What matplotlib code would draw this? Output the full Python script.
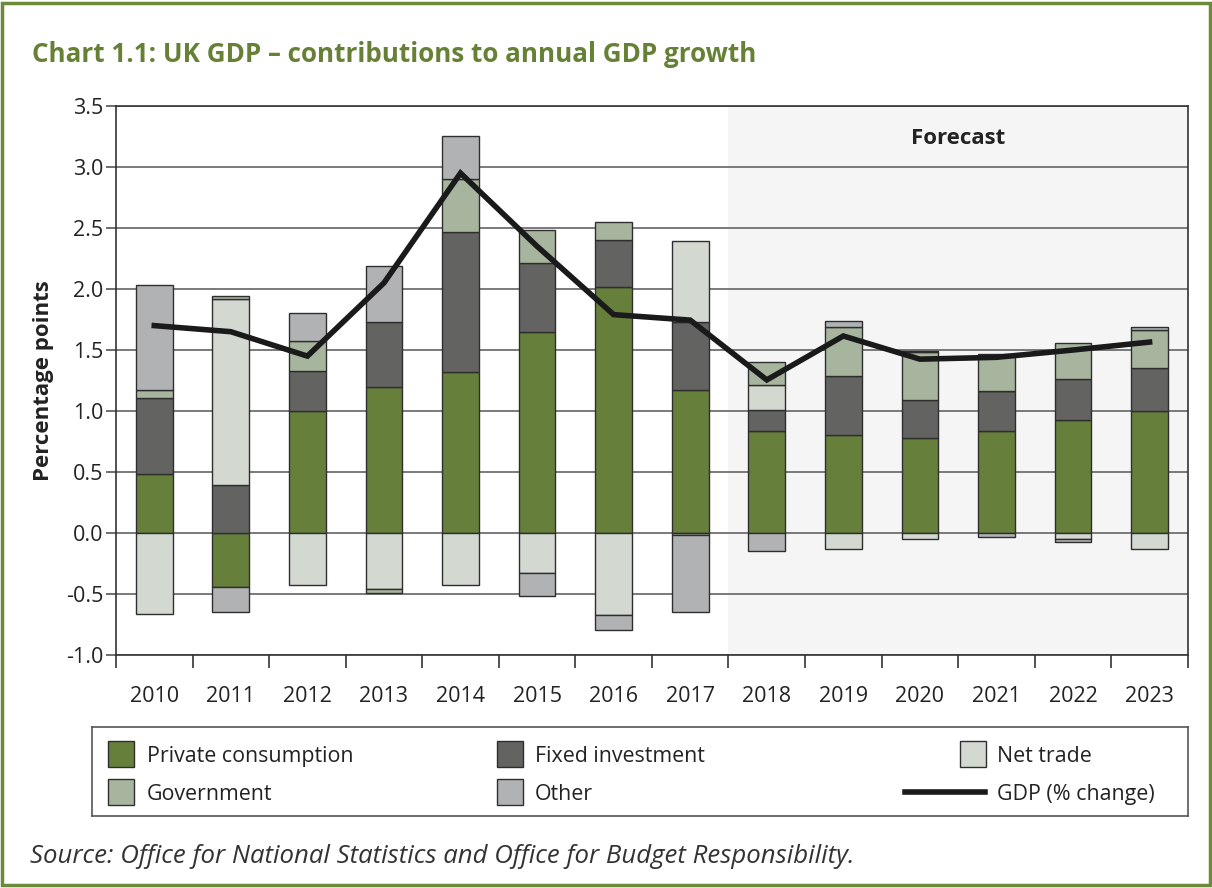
"""
UK GDP - contributions to annual GDP growth.
Stacked contribution bars with the GDP growth line on top.
"""

import numpy as np
import matplotlib
matplotlib.use('Agg')
import matplotlib.pyplot as plt
from matplotlib.patches import Rectangle
from matplotlib.lines import Line2D
from matplotlib.ticker import FixedLocator, FuncFormatter

plt.rcParams['font.family'] = ['Open Sans', 'DejaVu Sans']

years = ['2010', '2011', '2012', '2013', '2014', '2015', '2016',
         '2017', '2018', '2019', '2020', '2021', '2022', '2023']
private_consumption = [0.48, -0.44, 1.00, 1.20, 1.32, 1.65, 2.02,
                       1.175, 0.84, 0.80, 0.78, 0.84, 0.93, 1.00]
fixed_investment = [0.63, 0.39, 0.33, 0.53, 1.15, 0.56, 0.385,
                    0.555, 0.17, 0.49, 0.31, 0.32, 0.33, 0.355]
net_trade = [-0.66, 1.53, -0.43, -0.46, -0.43, -0.33, -0.67,
             0.66, 0.205, -0.13, -0.05, 0.00, -0.05, -0.13]
government = [0.06, 0.025, 0.245, -0.03, 0.43, 0.27, 0.145,
              -0.02, 0.185, 0.395, 0.39, 0.31, 0.30, 0.305]
other = [0.86, -0.205, 0.23, 0.46, 0.355, -0.19, -0.125,
         -0.63, -0.15, 0.05, 0.01, -0.035, -0.025, 0.03]
gdp_growth = [1.70, 1.65, 1.45, 2.05, 2.95, 2.35, 1.79,
              1.745, 1.255, 1.615, 1.425, 1.44, 1.50, 1.565]
forecast_start = '2018'

series_labels = ['Private consumption', 'Fixed investment', 'Net trade',
                 'Government', 'Other']
series_values = [private_consumption, fixed_investment, net_trade,
                 government, other]
series_colors = ['#667f3b', '#636362', '#d3d8d1', '#a8b59e', '#b1b2b4']

GREEN = '#668036'
TEXT = '#222222'
GRID = '#6f6f6f'


def draw_bars(ax, x):
    """Stack positive and negative contributions separately."""
    pos_bottom = np.zeros(len(x))
    neg_bottom = np.zeros(len(x))
    for values, color in zip(series_values, series_colors):
        vals = np.array(values)
        bottom = np.where(vals >= 0, pos_bottom, neg_bottom)
        ax.bar(x, vals, width=0.48, bottom=bottom, color=color,
               edgecolor='#2e2e2e', linewidth=1.0, zorder=3)
        pos_bottom += np.clip(vals, 0, None)
        neg_bottom += np.clip(vals, None, 0)


def draw_legend(lax):
    """Hand-placed legend to match the three uneven columns."""
    lax.set_xlim(0, 1)
    lax.set_ylim(0, 1)
    lax.set_xticks([])
    lax.set_yticks([])
    for s in lax.spines.values():
        s.set_color('#555555')
        s.set_linewidth(1.2)

    col_x = [0.0146, 0.3695, 0.792]
    text_x = [0.0502, 0.404, 0.8257]
    row_y = [0.70, 0.27]
    slots = [(0, 0), (1, 0), (2, 0), (0, 1), (1, 1)]
    pw, ph = 0.0237, 0.292
    for (c, r), label, color in zip(slots, series_labels, series_colors):
        lax.add_patch(Rectangle((col_x[c], row_y[r] - ph / 2), pw, ph,
                                facecolor=color, edgecolor='#2e2e2e',
                                linewidth=1.0))
        lax.text(text_x[c], row_y[r] - 0.03, label, fontsize=15.4,
                 color=TEXT, va='center', ha='left')
    lax.add_line(Line2D([0.7418, 0.8148], [row_y[1], row_y[1]],
                        color='#1a1a1a', linewidth=4.0))
    lax.text(text_x[2], row_y[1] - 0.03, 'GDP (% change)', fontsize=15.4,
             color=TEXT, va='center', ha='left')


def main():
    fig = plt.figure(figsize=(12.12, 8.88), dpi=100)
    ax = fig.add_axes([0.0957, 0.2624, 0.8844, 0.6182])

    x = np.arange(len(years))
    fc = years.index(forecast_start) - 0.5
    ax.axvspan(fc, len(years) - 0.5, color='#f5f5f5', zorder=0, lw=0)

    draw_bars(ax, x)
    ax.plot(x, gdp_growth, color='#1a1a1a', linewidth=4.0, zorder=4,
            solid_joinstyle='miter')

    ax.set_xlim(-0.5, len(years) - 0.5)
    ax.set_ylim(-1.0, 3.5)

    # y axis
    ax.yaxis.set_major_locator(FixedLocator(np.arange(-1.0, 3.51, 0.5)))
    ax.yaxis.set_major_formatter(FuncFormatter(lambda v, p: f'{v:.1f}'))
    ax.grid(axis='y', color=GRID, linewidth=1.3, zorder=1)
    ax.tick_params(axis='y', direction='out', length=7, width=1.2,
                   color='#555555', labelsize=15.5, labelcolor=TEXT, pad=2)

    # x axis: ticks on the boundaries, year labels in the middle
    ax.xaxis.set_major_locator(FixedLocator(np.arange(-0.5, len(years), 1.0)))
    ax.xaxis.set_major_formatter(FuncFormatter(lambda v, p: ''))
    ax.xaxis.set_minor_locator(FixedLocator(x))
    ax.set_xticklabels(years, minor=True)
    ax.tick_params(axis='x', which='major', direction='out', length=9,
                   width=1.2, color='#333333')
    ax.tick_params(axis='x', which='minor', length=0, labelsize=15.5,
                   labelcolor=TEXT, pad=22)

    for s in ax.spines.values():
        s.set_color('#333333')
        s.set_linewidth(1.2)

    ax.set_ylabel('Percentage points', fontsize=16, fontweight='bold',
                  color=TEXT, labelpad=9)

    ax.text((fc + len(years) - 0.5) / 2, 3.23, 'Forecast', fontsize=16,
            fontweight='bold', color=TEXT, ha='center', va='center')

    # title, source, outer frame
    fig.text(0.0264, 0.939, 'Chart 1.1: UK GDP \u2013 contributions to annual GDP growth',
             fontsize=18.7, fontweight='bold', color=GREEN, ha='left',
             va='center')
    fig.text(0.0248, 0.035, 'Source: Office for National Statistics and '
             'Office for Budget Responsibility.', fontsize=18.5,
             style='italic', color='#333333', ha='left', va='center')
    fig.add_artist(Rectangle((0.002, 0.003), 0.996, 0.994,
                             transform=fig.transFigure, fill=False,
                             edgecolor='#6b8a3a', linewidth=2.5))

    lax = fig.add_axes([0.0759, 0.0811, 0.9043, 0.1002])
    draw_legend(lax)

    fig.savefig('out.png', dpi=100)


if __name__ == '__main__':
    main()
